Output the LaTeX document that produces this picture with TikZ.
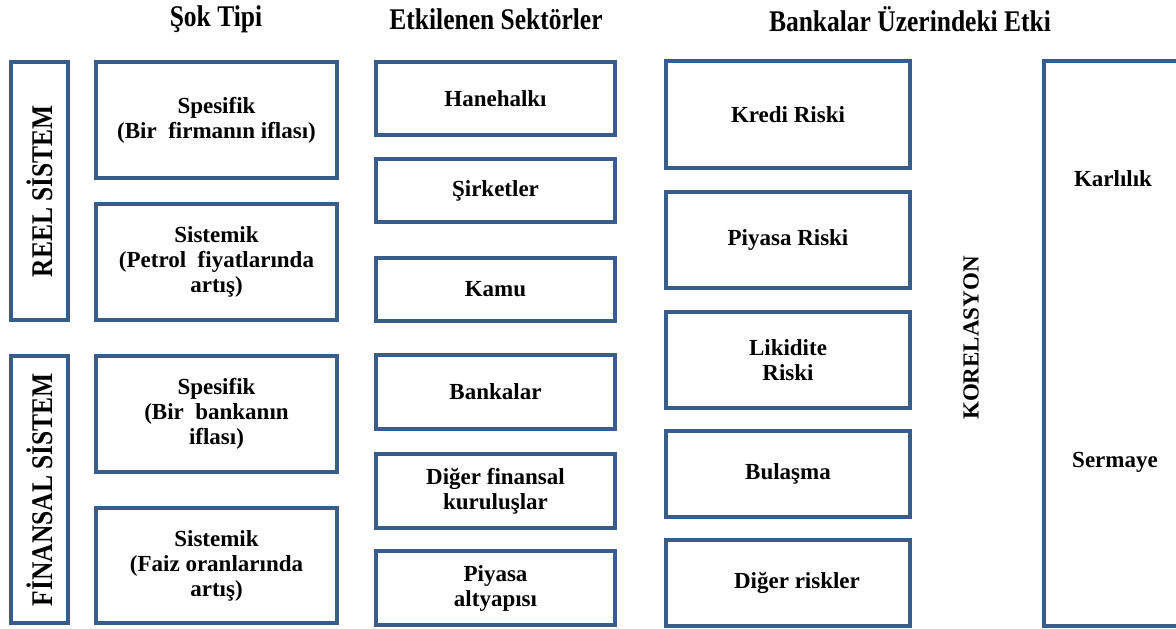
\documentclass[tikz,border=0pt]{standalone}
\usepackage{fontspec}
\setmainfont{Liberation Serif}
\newfontfamily\headfont[FakeStretch=0.85]{Liberation Serif}
\usepackage{xcolor}
\usepackage{tikz}
\usetikzlibrary{positioning}

\definecolor{boxblue}{RGB}{56,93,138}

\begin{document}
\begin{tikzpicture}[x=1pt, y=-1pt,
			box/.style={draw=boxblue, line width=3.5pt, fill=white, align=center,
				inner sep=0pt, font=\fontsize{23}{25}\selectfont\bfseries},
			tipbox/.style={box, minimum width=241pt},
			sektorbox/.style={box, minimum width=239pt},
			etkibox/.style={box, minimum width=244pt},
			sidebox/.style={box, minimum width=57pt},
			sidetext/.style={rotate=90, font=\headfont\fontsize{30}{32}\selectfont\bfseries},
			head/.style={font=\headfont\fontsize{30}{32}\selectfont\bfseries}]
			\useasboundingbox (0,0) rectangle (1176,629);
			
			% basliklar
			\node[head] (hTip) at (216,19) {Şok Tipi};
			\node[head] (hSektor) at (496,19) {Etkilenen Sektörler};
			\node[head] (hEtki) at (910,19) {Bankalar Üzerindeki Etki};
			
			% sistemler
			\node[sidebox, minimum height=258pt] (Reel) at (39.5,191) {};
			\node[sidetext] at (Reel) {REEL SİSTEM};
			\node[sidebox, minimum height=267pt] (Finans) at (39.5,489.5) {};
			\node[sidetext] at (Finans) {FİNANSAL SİSTEM};
			
			% sok tipi
			\node[tipbox, minimum height=116pt] (Spes1) at (216.5,120) {Spesifik\\(Bir~ firmanın iflası)};
			\node[tipbox, minimum height=116pt] (Sist1) at (216.5,262) {Sistemik\\(Petrol~ fiyatlarında\\artış)};
			\node[tipbox, minimum height=116pt] (Spes2) at (216.5,414) {Spesifik\\(Bir~ bankanın\\iflası)};
			\node[tipbox, minimum height=115pt] (Sist2) at (216.5,565.5) {Sistemik\\(Faiz oranlarında\\artış)};
			
			% etkilenen sektorler
			\node[sektorbox, minimum height=73pt] (Hane) at (495.5,98.5) {Hanehalkı};
			\node[sektorbox, minimum height=63pt] (Sirket) at (495.5,190.5) {Şirketler};
			\node[sektorbox, minimum height=63pt] (Kamu) at (495.5,289.5) {Kamu};
			\node[sektorbox, minimum height=74pt] (Banka) at (495.5,392) {Bankalar};
			\node[sektorbox, minimum height=74pt] (Diger) at (495.5,491) {Diğer finansal\\kuruluşlar};
			\node[sektorbox, minimum height=74pt] (Altyapi) at (495.5,588) {Piyasa\\altyapısı};
			
			% bankalar uzerindeki etki
			\node[etkibox, minimum height=107pt] (Kredi) at (788,114.5) {Kredi Riski};
			\node[etkibox, minimum height=96pt] (Piyasa) at (788,240) {Piyasa Riski};
			\node[etkibox, minimum height=96pt] (Likidite) at (788,360) {Likidite\\Riski};
			\node[etkibox, minimum height=86pt] (Bulasma) at (788,474) {Bulaşma};
			\node[etkibox, minimum height=86pt] (DigerRisk) at (788,583) {\hspace*{18pt}Diğer riskler};
			
			\node[sidetext, font=\fontsize{23}{25}\selectfont\bfseries] (Kor) at (971,338) {KORELASYON};
			
			% sonuc
			\node[box, minimum width=140pt, minimum height=565pt] (Sonuc) at (1114,343.5) {};
			\node[font=\fontsize{23}{25}\selectfont\bfseries] (Karlilik) at (1113,179) {Karlılık};
			\node[font=\fontsize{23}{25}\selectfont\bfseries] (Sermaye) at (1115,462) {Sermaye};
		\end{tikzpicture}
\end{document}
